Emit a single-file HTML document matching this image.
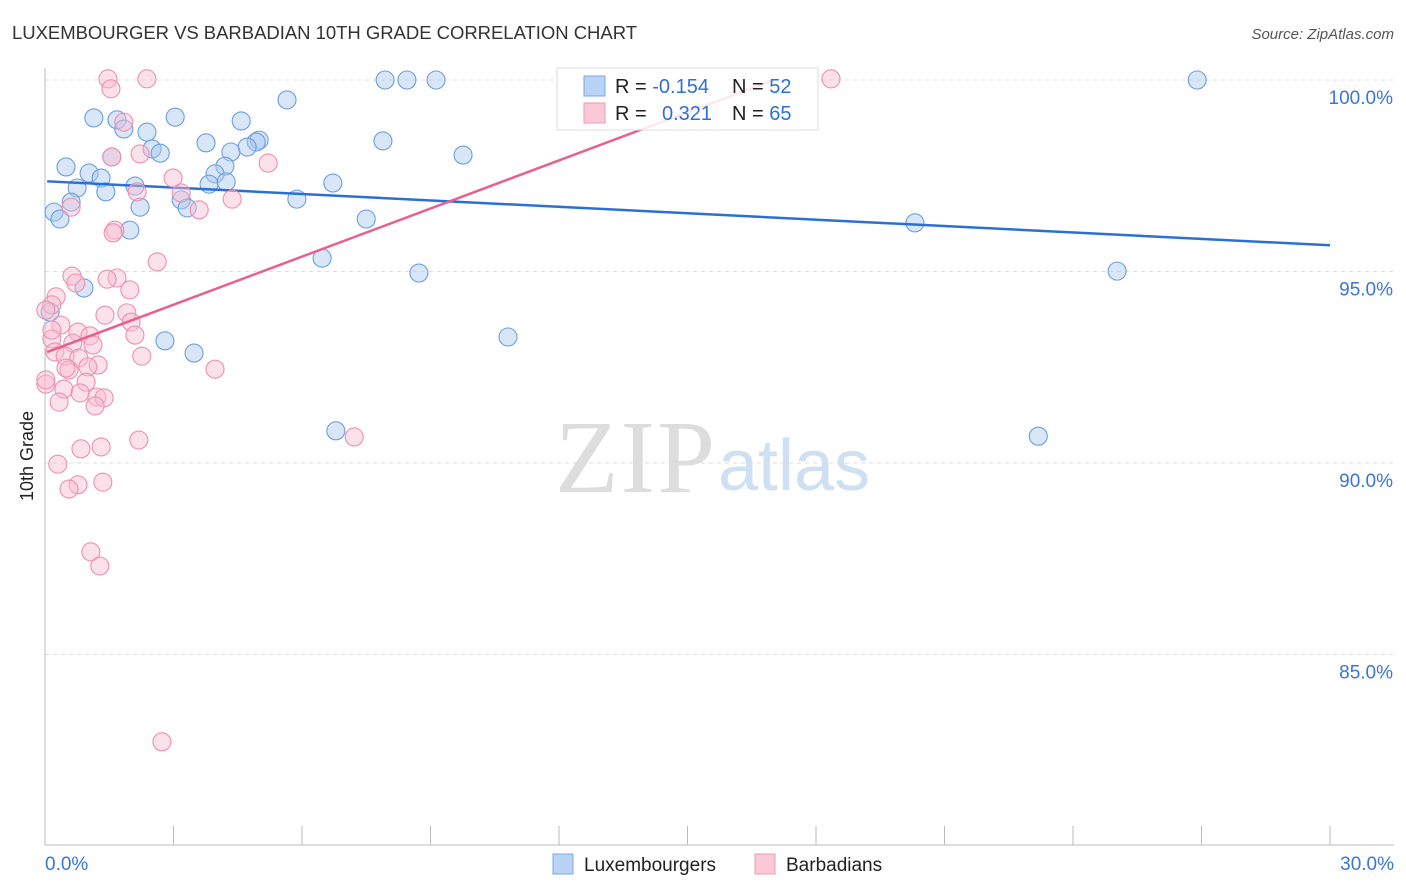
<!DOCTYPE html>
<html><head><meta charset="utf-8">
<style>
body{margin:0;background:#fff;font-family:"Liberation Sans",sans-serif;}
#wrap{position:relative;width:1406px;height:892px;overflow:hidden;}
</style></head>
<body>
<div id="wrap">
<svg id="chart" width="1406" height="892">
<text x="12" y="39" font-size="18.5" fill="#333" textLength="625">LUXEMBOURGER VS BARBADIAN 10TH GRADE CORRELATION CHART</text>
<text x="1394" y="39" font-size="15" fill="#555" text-anchor="end" font-style="italic">Source: ZipAtlas.com</text>
<text x="33" y="456" font-size="18" fill="#222" text-anchor="middle" transform="rotate(-90 33 456)">10th Grade</text>
<g id="grid"></g>
<text x="555" y="492" font-size="104" fill="#ddd" textLength="160" font-family="Liberation Serif">ZIP</text>
<text x="718" y="490" font-size="72" fill="#cfe0f3">atlas</text>
<g id="marks"></g>
<g>
<rect x="557" y="68" width="261" height="62" fill="#fff" fill-opacity="0.85" stroke="#ddd"/>
<rect x="584" y="76" width="21" height="20" fill="#b8d3f4" stroke="#7aa9e6"/>
<rect x="584" y="103" width="21" height="20" fill="#fbc8d6" stroke="#f09bb4"/>
<text x="615" y="93" font-size="20" fill="#222">R = <tspan fill="#2f6fd6">-0.154</tspan><tspan x="732">N = </tspan><tspan fill="#2f6fd6">52</tspan></text>
<text x="615" y="120" font-size="20" fill="#222">R = <tspan x="662" fill="#2f6fd6">0.321</tspan><tspan x="732">N = </tspan><tspan fill="#2f6fd6">65</tspan></text>
</g>
<g>
<rect x="553" y="854" width="20" height="20" fill="#b8d3f4" stroke="#7aa9e6"/>
<text x="584" y="871" font-size="19" fill="#222">Luxembourgers</text>
<rect x="755" y="854" width="20" height="20" fill="#fbc8d6" stroke="#f09bb4"/>
<text x="786" y="871" font-size="19" fill="#222">Barbadians</text>
</g>
</svg>
</div>
<script>
const yTicks=[100,95,90,85];
const yTickLabels=["100.0%","95.0%","90.0%","85.0%"];
const xTicks=[0,3,6,9,12,15,18,21,24,27,30];
const luxX=[7.94,8.45,9.13,26.90,5.65,1.14,3.04,1.68,4.58,1.84,2.38,5.00,4.93,7.89,3.76,2.50,4.72,2.69,4.34,9.76,1.56,0.49,4.20,1.03,3.97,1.31,3.83,4.23,6.72,2.10,0.75,1.42,5.88,0.61,3.18,2.22,3.32,0.21,0.35,7.50,1.98,20.31,6.47,25.03,8.73,0.91,0.12,10.81,2.80,3.48,6.79,23.19];
const luxY=[100,100,100,100,99.48,99.01,99.03,98.96,98.93,98.72,98.64,98.43,98.38,98.41,98.36,98.20,98.25,98.09,98.12,98.04,97.99,97.73,97.75,97.57,97.55,97.44,97.28,97.34,97.31,97.23,97.18,97.08,96.89,96.81,96.87,96.68,96.66,96.55,96.37,96.37,96.08,96.27,95.35,95.01,94.96,94.57,93.94,93.29,93.19,92.87,90.84,90.70];
const barX=[1.47,2.38,18.35,1.54,1.84,1.56,2.22,5.21,2.99,3.18,2.15,4.37,3.60,0.61,1.63,1.59,2.62,0.63,1.68,1.45,0.72,1.98,0.26,0.16,1.40,1.91,2.01,0.37,0.77,2.10,0.16,1.05,0.65,1.12,0.23,0.47,0.79,2.26,1.24,1.00,0.56,3.97,0.96,0.44,0.82,1.21,1.38,0.33,1.17,0.02,0.02,2.19,7.22,1.31,0.84,0.30,0.77,0.56,1.35,1.07,1.28,2.73,0.02,0.16,0.49];
const barY=[100.03,100.03,100.03,99.77,98.90,97.99,98.07,97.83,97.44,97.05,97.08,96.89,96.61,96.68,96.08,96.01,95.25,94.88,94.83,94.80,94.70,94.52,94.34,94.13,93.86,93.92,93.68,93.60,93.42,93.34,93.24,93.32,93.13,93.08,92.90,92.79,92.74,92.79,92.56,92.51,92.43,92.45,92.11,91.93,91.83,91.72,91.70,91.59,91.49,92.06,92.17,90.60,90.68,90.42,90.37,89.97,89.43,89.32,89.50,87.68,87.31,82.72,93.99,93.47,92.48];

const NS="http://www.w3.org/2000/svg";
const sx=v=>45+v*1285/30;
const sy=v=>80+(100-v)*38.3;
const grid=document.getElementById('grid');
const marks=document.getElementById('marks');
function mk(tag,attrs,parent){const e=document.createElementNS(NS,tag);for(const k in attrs)e.setAttribute(k,attrs[k]);parent.appendChild(e);return e;}

yTicks.forEach((t,i)=>{
  const l=mk('line',{x1:45,x2:1394,y1:sy(t),y2:sy(t),stroke:'#ddd','stroke-dasharray':'4,4'},grid);
  
  
  const tx=mk('text',{x:1393,y:sy(t)+24,'font-size':19,fill:'#3a76d6','text-anchor':'end'},grid);
  tx.textContent=yTickLabels[i];
  
  
});
const ax=mk('line',{x1:45,x2:45,y1:68,y2:845,stroke:'#bbb'},grid);


const bx=mk('line',{x1:45,x2:1394,y1:845,y2:845,stroke:'#bbb'},grid);


xTicks.forEach(t=>{
  const l=mk('line',{x1:sx(t),x2:sx(t),y1:826,y2:845,stroke:'#bbb'},grid);
  
  
});
[[0,'0.0%','start',45],[30,'30.0%','end',1394]].forEach(a=>{
  const tx=mk('text',{x:a[3],y:870,'font-size':19,fill:'#3a76d6','text-anchor':a[2]},grid);
  tx.textContent=a[1];
  
  
});

function fit(X,Y){const n=X.length;let mx=0,my=0;for(let i=0;i<n;i++){mx+=X[i];my+=Y[i];}mx/=n;my/=n;let sxy=0,sxx=0;for(let i=0;i<n;i++){sxy+=(X[i]-mx)*(Y[i]-my);sxx+=(X[i]-mx)**2;}const b=sxy/sxx;return [my-b*mx,b];}

function series(X,Y,fill,stroke,name,lineColor,clipTop){
  X.forEach((x,i)=>{
    const c=mk('circle',{cx:sx(x),cy:sy(Y[i]),r:9,fill:fill,'fill-opacity':0.45,stroke:stroke,'stroke-width':1.1},marks);
    
    
  });
  const [a,b]=fit(X,Y);
  let x2=30;
  if(clipTop && b>0){x2=Math.min(30,(100-a)/b);}
  const ln=mk('line',{x1:sx(0.05),y1:sy(a+b*0.05),x2:sx(x2),y2:sy(a+b*x2),stroke:lineColor,'stroke-width':2.5},marks);
  
  
}
series(luxX,luxY,'#a9c8f0','#6a9fe0','luxembourger','#2a6fd4',false);
series(barX,barY,'#f8bcd0','#ee8fae','barbadian','#e8608e',true);
</script>
</body></html>
